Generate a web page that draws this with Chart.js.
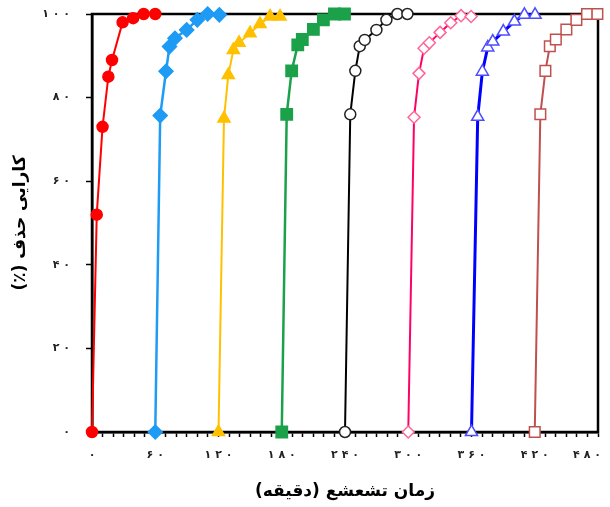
<!DOCTYPE html>
<html lang="fa">
<head>
    <meta charset="UTF-8">
    <title>کارایی حذف</title>
    <script src="https://cdn.jsdelivr.net/npm/chart.js"></script>
    <style>
        html, body {
            margin: 0;
            padding: 0;
            background: #fff;
        }
        #wrap {
            width: 610px;
            height: 507px;
        }
    </style>
</head>
<body>
    <div id="wrap"><canvas id="chart"></canvas></div>

    <script>
        // time (min) and removal efficiency (%) for each run
        const t1 = [0, 4.5, 10, 15.5, 19, 29, 39, 49, 60];
        const e1 = [0, 52, 73, 85, 89, 98, 99, 100, 100];

        const t2 = [60, 64.7, 70.2, 73.5, 78.7, 89.8, 99.9, 109.7, 120.8];
        const e2 = [0, 75.7, 86.3, 92.2, 94.2, 96.2, 98.6, 100, 99.8];

        const t3 = [120, 125.2, 129.3, 134.1, 139.5, 149.9, 159.4, 168.9, 178.4];
        const e3 = [0, 75, 85.4, 91.4, 93.1, 95.4, 97.6, 99.4, 99.4];

        const t4 = [180, 184.7, 189.4, 195.2, 199.5, 210, 219.5, 230, 239.5];
        const e4 = [0, 76, 86.4, 92.6, 93.9, 96.3, 98.6, 100, 100];

        const t5 = [240, 245, 249.8, 254, 258.7, 269.8, 279.3, 289.7, 299.2];
        const e5 = [0, 76, 86.4, 92.3, 93.8, 96.2, 98.6, 100, 100];

        const t6 = [300, 305.5, 310.2, 315, 320, 330.2, 340.3, 350.1, 359.6];
        const e6 = [0, 75.3, 85.8, 91.8, 93.1, 95.6, 97.9, 99.6, 99.4];

        const t7 = [360, 365.9, 370.3, 375.4, 380.2, 390.2, 400.7, 410.2, 420.3];
        const e7 = [0, 75.4, 86.2, 92, 93.4, 95.8, 98.2, 99.8, 99.8];

        const t8 = [420, 425.3, 430.1, 434.3, 440, 450, 459.5, 469.6, 479.4];
        const e8 = [0, 76, 86.4, 92.3, 93.9, 96.3, 98.6, 100, 100];

        const xTicks = [0, 60, 120, 180, 240, 300, 360, 420, 480];
        const yTicks = [0, 20, 40, 60, 80, 100];

        // RLM marks so the canvas lays the titles out right-to-left
        const xTitle = '\u200Fزمان تشعشع (دقیقه)\u200F';
        const yTitle = '\u200Fکارایی حذف (٪)\u200F';

        const faDigits = '۰۱۲۳۴۵۶۷۸۹';
        function toFa(n) {
            return String(n).split('').map(d => faDigits[d]).join(' ');
        }

        function pts(t, e) {
            return t.map((x, i) => ({ x: x, y: e[i] }));
        }

        function series(t, e, line, style) {
            return Object.assign({
                data: pts(t, e),
                borderColor: line,
                borderWidth: 2,
                pointBorderWidth: 1.5,
                tension: 0,
                clip: false,
                showLine: true
            }, style);
        }

        const frame = {
            id: 'frame',
            beforeDatasetsDraw(chart) {
                const a = chart.chartArea;
                const ctx = chart.ctx;
                ctx.save();
                ctx.strokeStyle = '#000';
                ctx.lineWidth = 2.5;
                ctx.strokeRect(a.left, a.top, a.right - a.left, a.bottom - a.top);
                ctx.restore();
            }
        };

        function noPad(s) {
            s.paddingLeft = 0;
            s.paddingRight = 0;
            s.paddingTop = 0;
            s.paddingBottom = 0;
        }

        const tickFont = { family: 'DejaVu Sans', size: 11, weight: 'bold' };
        const titleFont = { family: 'DejaVu Sans', size: 17, weight: 'bold' };

        new Chart(document.getElementById('chart'), {
            type: 'scatter',
            data: {
                datasets: [
                    series(t1, e1, '#ff0000', { pointStyle: 'circle', pointRadius: 5.5, pointBackgroundColor: '#ff0000', pointBorderColor: '#ff0000' }),
                    series(t2, e2, '#1e9bf5', { borderWidth: 2.5, pointStyle: 'rectRot', pointRadius: 7, pointBackgroundColor: '#1e9bf5', pointBorderColor: '#1e9bf5' }),
                    series(t3, e3, '#ffc000', { pointStyle: 'triangle', pointRadius: 7, pointBackgroundColor: '#ffc000', pointBorderColor: '#ffc000' }),
                    series(t4, e4, '#1ba14a', { borderWidth: 2.5, pointStyle: 'rect', pointRadius: 8, pointBackgroundColor: '#1ba14a', pointBorderColor: '#1ba14a' }),
                    series(t5, e5, '#000000', { pointStyle: 'circle', pointRadius: 5.5, pointBackgroundColor: '#ffffff', pointBorderColor: '#222222' }),
                    series(t6, e6, '#ff0066', { pointStyle: 'rectRot', pointRadius: 6, pointBackgroundColor: '#ffffff', pointBorderColor: '#ff6699' }),
                    series(t7, e7, '#0000ff', { borderWidth: 3, pointStyle: 'triangle', pointRadius: 7, pointBackgroundColor: '#ffffff', pointBorderColor: '#4d4dff' }),
                    series(t8, e8, '#c0504d', { pointStyle: 'rect', pointRadius: 7.5, pointBackgroundColor: '#ffffff', pointBorderColor: '#c0504d' })
                ]
            },
            options: {
                responsive: true,
                maintainAspectRatio: false,
                animation: false,
                layout: { padding: { top: 14, right: 12, left: 0, bottom: 0 } },
                plugins: {
                    legend: { display: false },
                    tooltip: { enabled: false }
                },
                scales: {
                    x: {
                        type: 'linear',
                        min: 0,
                        max: 480,
                        border: { color: '#000', width: 2.5 },
                        grid: { drawOnChartArea: false, tickLength: 5, tickColor: '#000', tickWidth: 1.5 },
                        ticks: {
                            stepSize: 10,
                            autoSkip: false,
                            maxRotation: 0,
                            padding: 12,
                            color: '#222',
                            font: tickFont,
                            callback: v => {
                                if (!xTicks.includes(v)) return '';
                                // last label sits inside the canvas edge, as in the figure
                                return v === 480 ? toFa(v) + '\u2002\u2002\u2002\u2002' : toFa(v);
                            }
                        },
                        title: { display: true, text: xTitle, color: '#000', font: titleFont, padding: { top: 10, bottom: 5 } },
                        afterFit: s => { s.height = 75; noPad(s); }
                    },
                    y: {
                        min: 0,
                        max: 100,
                        border: { color: '#000', width: 2.5 },
                        grid: { drawOnChartArea: false, tickLength: 6, tickColor: '#000', tickWidth: 1.5 },
                        ticks: {
                            stepSize: 20,
                            padding: 16,
                            color: '#222',
                            font: tickFont,
                            callback: v => yTicks.includes(v) ? toFa(v) : ''
                        },
                        title: { display: true, text: yTitle, color: '#000', font: titleFont, padding: { top: 10, bottom: 8 } },
                        afterFit: s => { s.width = 92; noPad(s); }
                    }
                }
            },
            plugins: [frame]
        });
    </script>
</body>
</html>
